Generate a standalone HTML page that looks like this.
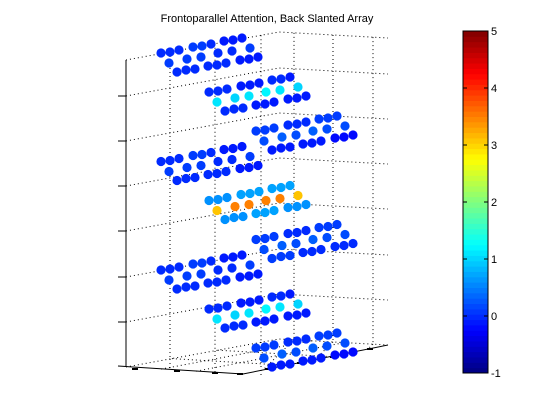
<!DOCTYPE html>
<html><head><meta charset="utf-8"><style>
html,body{margin:0;padding:0;background:#fff;}
svg{display:block;font-family:"Liberation Sans",sans-serif;}
</style></head><body>
<svg id="c" width="560" height="420" viewBox="0 0 560 420">
<rect width="560" height="420" fill="#fff"/>
<text x="267" y="22" font-size="11" text-anchor="middle">Frontoparallel Attention, Back Slanted Array</text>
<g id="grid"></g>
<g id="axes"></g>
<g id="dots"></g>
<g id="cbar"></g>
</svg>
<script>
// Per-layer values (9 layers, top to bottom), each: row1 (9), row2 (6), row3 (9)
const layerPositions = ['left','mid','right','left','mid','right','left','mid','right'];
const row1Values = [
 [0.0,0.0,0.0,0.1,0.1,0.0,-0.1,-0.1,-0.1],
 [0.0,0.0,0.0,-0.1,-0.1,-0.1,0.0,0.0,-0.1],
 [0.1,0.1,0.1,0.0,0.0,0.0,0.1,0.1,0.1],
 [0.0,0.0,0.0,0.1,0.1,0.0,-0.1,-0.1,-0.1],
 [0.6,0.6,0.6,0.7,0.7,0.7,0.7,0.7,0.7],
 [0.1,0.1,0.1,0.0,0.0,0.0,0.1,0.1,0.1],
 [0.0,0.0,0.0,0.1,0.1,0.0,-0.1,-0.1,-0.1],
 [0.0,0.0,0.0,-0.1,-0.1,-0.1,0.0,0.0,-0.1],
 [0.1,0.1,0.1,0.0,0.0,0.0,0.1,0.1,0.1]
];
const row2Values = [
 [0.1,0.1,0.1,0.0,0.0,0.1],
 [1.1,1.0,1.1,1.2,1.1,1.0],
 [0.2,0.3,0.2,0.3,0.2,0.2],
 [0.1,0.1,0.1,0.0,0.0,0.1],
 [3.1,3.5,3.5,3.5,3.5,3.1],
 [0.2,0.3,0.2,0.3,0.2,0.2],
 [0.1,0.1,0.1,0.0,0.0,0.1],
 [1.1,1.0,1.1,1.2,1.1,1.0],
 [0.2,0.3,0.2,0.3,0.2,0.2]
];
const row3Values = [
 [0.0,0.0,0.0,0.0,0.0,0.0,-0.1,-0.1,-0.1],
 [0.0,0.0,0.0,-0.1,-0.1,-0.1,-0.1,-0.1,-0.1],
 [-0.1,-0.1,-0.1,-0.1,-0.1,-0.1,-0.2,-0.2,-0.2],
 [0.0,0.0,0.0,0.0,0.0,0.0,-0.1,-0.1,-0.1],
 [0.6,0.6,0.6,0.7,0.7,0.7,0.6,0.6,0.6],
 [0.1,0.1,0.1,0.0,0.0,0.0,0.0,0.0,0.0],
 [0.0,0.0,0.0,0.0,0.0,0.0,-0.1,-0.1,-0.1],
 [0.0,0.0,0.0,-0.1,-0.1,-0.1,-0.1,-0.1,-0.1],
 [-0.1,-0.1,-0.1,-0.1,-0.1,-0.1,-0.2,-0.2,-0.2]
];
const zTickLabels = ['','','','','','',''];
const cbarTicks = [-1,0,1,2,3,4,5];

const NS='http://www.w3.org/2000/svg';
function mk(tag,attrs,parent){const e=document.createElementNS(NS,tag);for(const k in attrs)e.setAttribute(k,attrs[k]);parent.appendChild(e);return e;}
function jet(v){let t=(v+1)/6;t=Math.max(0,Math.min(1,t));
 const f=x=>Math.max(0,Math.min(1,x));
 const r=f(Math.min(4*t-1.5,-4*t+4.5)),g=f(Math.min(4*t-0.5,-4*t+3.5)),b=f(Math.min(4*t+0.5,-4*t+2.5));
 return `rgb(${Math.round(r*255)},${Math.round(g*255)},${Math.round(b*255)})`;}
const cbY=v=>373-(v+1)*57;

// grid
const grid=document.getElementById('grid');
const ds={stroke:'#000','stroke-width':1,'stroke-dasharray':'1,3',fill:'none'};
const hY=[96,141,186,231,277,322,367];
hY.forEach((y,i)=>{
 const l=mk('polyline',Object.assign({points:`126,${y} 279,${y-28} 388,${y-22}`},ds),grid);
 
 
});
// top edge
{const l=mk('polyline',Object.assign({points:`126,60 279,32 388,38`},ds),grid);
 }
[170,215,261].forEach(x=>{const d=(x-126)/153*28;
 const l=mk('line',Object.assign({x1:x,y1:60-d,x2:x,y2:367-d},ds),grid);
 });
[294,333,373].forEach(x=>{const d=28-(x-279)/109*6;
 const l=mk('line',Object.assign({x1:x,y1:60-d,x2:x,y2:367-d},ds),grid);
 });
// floor grid
[[170,359,295,364],[215,351,340,355],[261,342,372,348]].forEach(p=>{
 const l=mk('line',Object.assign({x1:p[0],y1:p[1],x2:(p[0]-126)/117*117+126+(0),y2:367+(p[0]-126)/117*7},ds),grid);
 });
[[294,336],[333,337],[373,340]].forEach(p=>{
 const f=(p[0]-279)/109;
 const l=mk('line',Object.assign({x1:p[0],y1:339+f*6,x2:243+f*145,y2:374-f*29},ds),grid);
 });
[0.3,0.6].forEach(f=>{
 const l=mk('line',Object.assign({x1:126+f*153,y1:367-f*28,x2:243+f*145,y2:374-f*29},ds),grid);
 
 const l2=mk('line',Object.assign({x1:126+117*f,y1:367+7*f,x2:279+f*109,y2:339+f*6},ds),grid);
 });

// axes
const axes=document.getElementById('axes');
const sol={stroke:'#000','stroke-width':1,fill:'none'};
{const l=mk('line',Object.assign({x1:126,y1:60,x2:126,y2:367},sol),axes);
 }
hY.slice(0,6).forEach(y=>{const t=mk('line',Object.assign({x1:118,y1:y,x2:126,y2:y},sol),axes);
 });
{const l=mk('polyline',Object.assign({points:`118,366 243,374 388,345`},sol),axes);
 }
[[135,369],[177,371],[215,373],[240,374],[268,369],[300,363],[333,357],[370,349]].forEach(p=>{
 const t=mk('line',Object.assign({x1:p[0]-3,y1:p[1],x2:p[0]+3,y2:p[1]},Object.assign({},sol,{'stroke-width':2})),axes);
 });

// dots
const dots=document.getElementById('dots');
const origins={left:[161,53],mid:[209,92],right:[256,131]};
const r1=[[0,0],[9,-1],[18,-3],[32,-6],[41,-7],[50,-9],[63,-12],[72,-13],[81,-15]];
const r2=[[8,10],[26,6],[40,4],[57,0],[71,-2],[89,-5]];
const r3=[[16,19],[25,17],[34,16],[47,13],[56,12],[65,10],[79,7],[88,6],[97,4]];
layerPositions.forEach((pos,li)=>{
 const o=origins[pos];const oy=o[1]+Math.floor(li/3)*108.5;
 [[r1,row1Values[li]],[r2,row2Values[li]],[r3,row3Values[li]]].forEach(([offs,vals])=>{
  offs.forEach((d,i)=>{
   const c=mk('circle',{cx:o[0]+d[0],cy:oy+d[1],r:4.6,fill:jet(vals[i])},dots);
   
   
  });
 });
});

// colorbar
const cb=document.getElementById('cbar');
for(let i=0;i<64;i++){
 const v0=-1+6*i/64,v1=-1+6*(i+1)/64;
 const r=mk('rect',{x:463,y:cbY(v1),width:25,height:cbY(v0)-cbY(v1)+0.5,fill:jet((v0+v1)/2)},cb);
 
}
{const r=mk('rect',{x:463,y:31,width:25,height:342,fill:'none',stroke:'#000','stroke-width':1},cb);
 }
cbarTicks.forEach(v=>{const y=cbY(v);
 const a=mk('line',{x1:463,y1:y,x2:467,y2:y,stroke:'#000'},cb);
 
 const b=mk('line',{x1:484,y1:y,x2:488,y2:y,stroke:'#000'},cb);
 
 const t=mk('text',{x:491,y:y+4,'font-size':11},cb);t.textContent=v;
 });
</script>
</body></html>
